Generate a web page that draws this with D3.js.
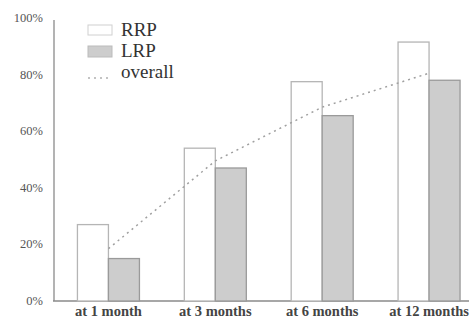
<!DOCTYPE html>
<html><head><meta charset="utf-8">
<script src="https://cdn.jsdelivr.net/npm/d3@7"></script>
</head><body style="margin:0">
<script>
const categories = ["at 1 month", "at 3 months", "at 6 months", "at 12 months"];
const rrp = [27, 54, 77.5, 91.5];
const lrp = [15, 47, 65.5, 78];
const overall = [18.5, 49.5, 68.5, 80.5];
const yTicks = [0, 20, 40, 60, 80, 100];
const legendLabels = ["RRP", "LRP", "overall"];

const W = 476, H = 320;
const FONT = "Liberation Serif, Times New Roman, serif";
const svg = d3.select("body").append("svg").attr("width", W).attr("height", H);

const x = d3.scaleBand().domain(categories).range([55, 482.5]).padding(0);
const y = d3.scaleLinear().domain([0, 100]).range([301, 18]);
const bw = 31;

svg.append("line").attr("x1", 54).attr("x2", 54).attr("y1", y(100) + 2).attr("y2", y(0))
  .attr("stroke", "#8a8a8a").attr("stroke-width", 1.3);
svg.append("line").attr("x1", 53).attr("x2", 469).attr("y1", y(0)).attr("y2", y(0))
  .attr("stroke", "#8a8a8a").attr("stroke-width", 1.3);

svg.selectAll("text.ytick").data(yTicks).join("text").attr("class", "ytick")
  .attr("x", 43).attr("y", d => y(d) + 4)
  .attr("text-anchor", "end")
  .attr("font-family", FONT).attr("font-size", 12.5).attr("fill", "#555")
  .text(d => d + "%");

const cx = c => x(c) + x.bandwidth() / 2;
svg.append("g").selectAll("rect").data(categories).join("rect")
  .attr("x", c => cx(c) - bw).attr("width", bw)
  .attr("y", (c, i) => y(rrp[i])).attr("height", (c, i) => y(0) - y(rrp[i]))
  .attr("fill", "#fff").attr("stroke", "#b5b5b5").attr("stroke-width", 1.3);
svg.append("g").selectAll("rect").data(categories).join("rect")
  .attr("x", c => cx(c)).attr("width", bw)
  .attr("y", (c, i) => y(lrp[i])).attr("height", (c, i) => y(0) - y(lrp[i]))
  .attr("fill", "#cdcdcd").attr("stroke", "#9a9a9a").attr("stroke-width", 1.3);

const line = d3.line().x((d, i) => cx(categories[i])).y(d => y(d));
svg.append("path").attr("d", line(overall)).attr("fill", "none")
  .attr("stroke", "#a0a0a0").attr("stroke-width", 1.5).attr("stroke-dasharray", "2,4");

svg.selectAll("text.xlab").data(categories).join("text").attr("class", "xlab")
  .attr("x", c => cx(c)).attr("y", 316).attr("text-anchor", "middle")
  .attr("font-family", FONT).attr("font-size", 14.5).attr("font-weight", "bold").attr("fill", "#444")
  .text(c => c);

svg.append("rect").attr("x", 88).attr("y", 25).attr("width", 24).attr("height", 10)
  .attr("fill", "#fff").attr("stroke", "#d0d0d0").attr("stroke-width", 1);
svg.append("rect").attr("x", 88).attr("y", 46).attr("width", 24).attr("height", 11)
  .attr("fill", "#cdcdcd").attr("stroke", "#bbb").attr("stroke-width", 1);
svg.append("line").attr("x1", 88).attr("x2", 112).attr("y1", 78).attr("y2", 78)
  .attr("stroke", "#b0b0b0").attr("stroke-width", 1.5).attr("stroke-dasharray", "2,4");
svg.selectAll("text.leg").data(legendLabels).join("text").attr("class", "leg")
  .attr("x", 121).attr("y", (d, i) => 36 + i * 21)
  .attr("font-family", FONT).attr("font-size", 19).attr("fill", "#333")
  .text(d => d);
</script>
</body></html>
